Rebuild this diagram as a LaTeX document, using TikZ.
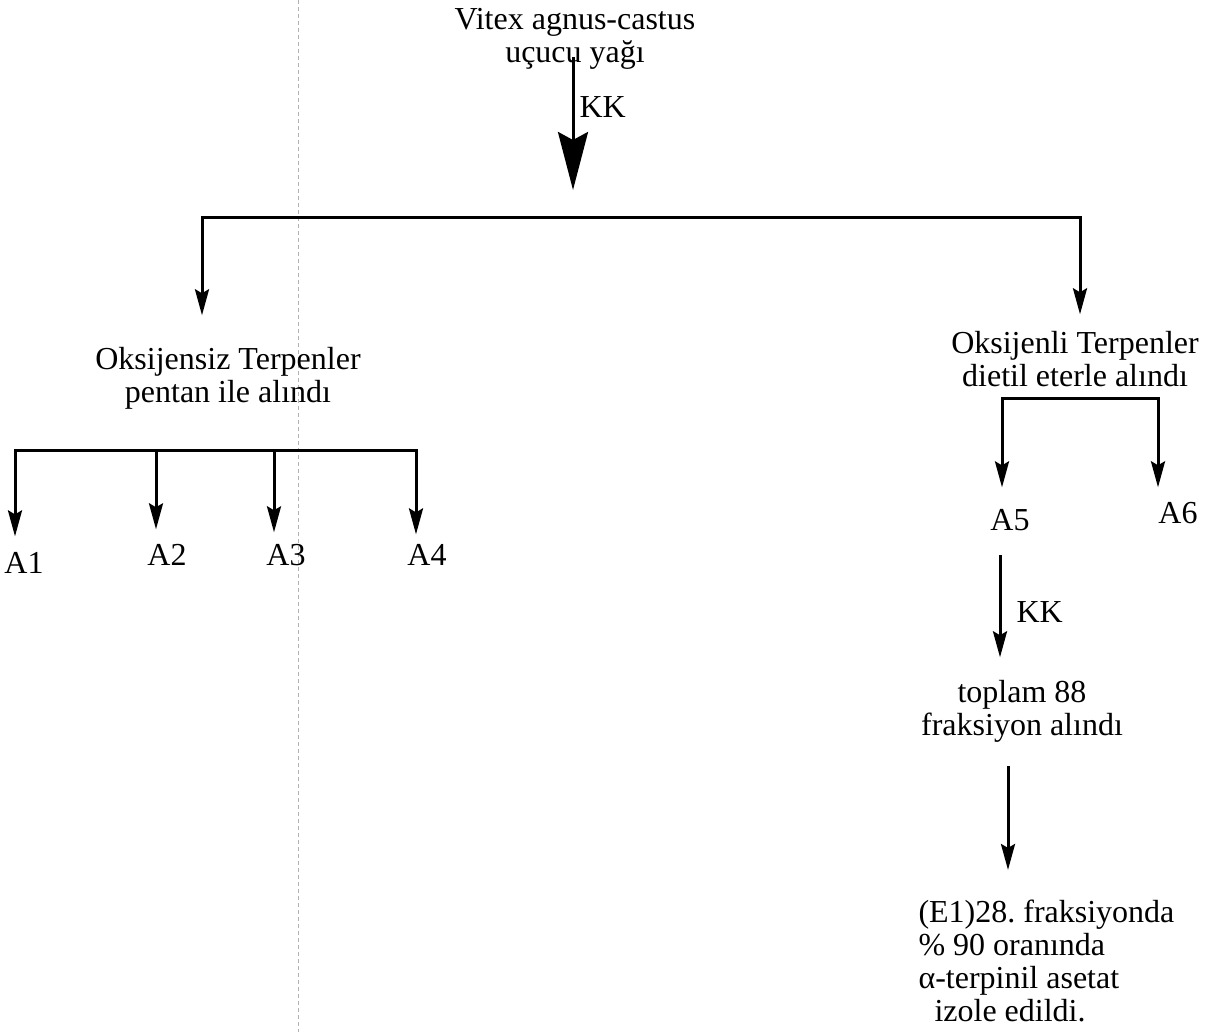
\documentclass[tikz,border=0pt]{standalone}
\usepackage{fontspec}
\setmainfont{Liberation Serif}
\frenchspacing
\usetikzlibrary{arrows.meta}

\begin{document}
\begin{tikzpicture}[x=1pt, y=-1pt, line width=3pt,
        every node/.style={inner sep=0pt, anchor=base, font=\fontsize{32}{33}\selectfont},
        drop/.style={-{Stealth[length=26pt, width=14pt, inset=4pt]}},
        bigdrop/.style={-{Stealth[length=58pt, width=30pt, inset=8pt]}}]
    \useasboundingbox (0,0) rectangle (1215,1032);
    % fold of the page
    \draw[line width=1pt, black!30, dash pattern=on 4pt off 3pt] (298,0) -- (298,1032);
    % multi-line nodes sit on the baseline of their last line
    \path   node (V) at (575,63) [align=center] {Vitex agnus-castus\\uçucu yağı}
            node (K1) at (578,118) [anchor=base west] {KK}
            node (O1) at (228,402) [align=center] {Oksijensiz Terpenler\\pentan ile alındı}
            node (O2) at (1075,386) [align=center] {Oksijenli Terpenler\\dietil eterle alındı}
            node (A1) at (24,573) {A1}
            node (A2) at (167,565) {A2}
            node (A3) at (286,565) {A3}
            node (A4) at (427,565) {A4}
            node (A5) at (1010,530) {A5}
            node (A6) at (1178,523) {A6}
            node (K2) at (1015,622) [anchor=base west] {KK}
            node (T) at (1022,735) [align=center] {toplam 88\\fraksiyon alındı}
            node (E) at (917,1021) [anchor=base west, align=left] {(E1)28. fraksiyonda\\\% 90 oranında\\α-terpinil asetat\\\hspace{16pt}izole edildi.};
    \path   coordinate (t0) at (573,57)
            coordinate (t1) at (573,190)
            coordinate (hl) at (202,218)
            coordinate (hr) at (1080,218)
            coordinate (l1) at (15,450)
            coordinate (l2) at (156,450)
            coordinate (l3) at (274,450)
            coordinate (l4) at (416,450)
            coordinate (r1) at (1002,398)
            coordinate (r2) at (1158,398)
            coordinate (c5) at (1000,0)
            coordinate (c6) at (1008,0);
    % main split
    \draw[bigdrop] (t0) -- (t1);
    \draw[drop, shorten >=30pt] (hr) -- (hl) -- (hl |- O1.north);
    \draw[drop, shorten >=15pt] (hl) -- (hr) -- (hr |- O2.north);
    % left branch
    \draw[drop, shorten >=14pt] (l4) -- (l1) -- (l1 |- A1.north);
    \draw[drop, shorten >=13pt] (l2) -- (l2 |- A2.north);
    \draw[drop, shorten >=10pt] (l3) -- (l3 |- A3.north);
    \draw[drop, shorten >=8pt] (l1) -- (l4) -- (l4 |- A4.north);
    % right branch
    \draw[drop, shorten >=20pt] (r2) -- (r1) -- (r1 |- A5.north);
    \draw[drop, shorten >=13pt] (r1) -- (r2) -- (r2 |- A6.north);
    \draw[drop, shorten <=23pt, shorten >=21pt] (A5.south -| c5) -- (T.north -| c5);
    \draw[drop, shorten <=23pt, shorten >=28pt] (T.south -| c6) -- (E.north -| c6);
\end{tikzpicture}
\end{document}
